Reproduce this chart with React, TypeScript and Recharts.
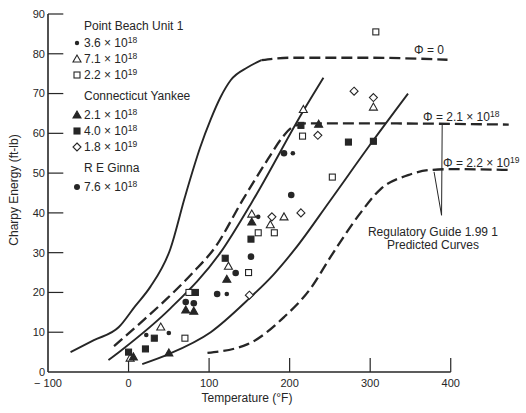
import React from 'react';
import { ComposedChart, Line, Scatter, XAxis, YAxis, ReferenceLine } from 'recharts';

const ink = '#262626';
const font = '"Liberation Sans", Arial, Helvetica, sans-serif';

// Regulatory Guide 1.99 predicted curves (temperature F, energy ft-lb)
const phi0SolidTemp = [-72, -43, -12, 8, 27, 52, 70, 89, 102, 114, 127, 148, 165];
const phi0SolidEnergy = [5, 8, 11.3, 16.5, 21.4, 31, 44, 56.5, 63.5, 69, 73.4, 76.6, 78.4];
const phi0DashTemp = [165, 200, 300, 396];
const phi0DashEnergy = [78.4, 79, 79, 78.5];
const phi21Temp = [-18, 20, 48, 80, 108, 141, 173, 191, 203, 220, 300, 472];
const phi21Energy = [6.5, 13.3, 18.5, 25, 31.5, 43, 53.5, 59, 61.5, 62.5, 62.5, 62.2];
const phi22Temp = [98, 148, 193, 226, 251, 288, 313, 347, 375, 400, 471];
const phi22Energy = [4.8, 7, 13.8, 21, 29, 40, 46, 49.5, 50.8, 51, 50.8];

// the two solid fitted lines through the data
const fitLowTemp = [-25, -10, 52, 114, 154, 218, 242];
const fitLowEnergy = [3, 5.3, 16, 30, 43, 66, 74];
const fitHighTemp = [17, 50, 102, 150, 180, 207, 250, 303, 347];
const fitHighEnergy = [2, 4.5, 10, 18.5, 24.5, 31, 43, 58, 70];

// measured points
const pb36Temp = [22, 50, 122, 161, 204];
const pb36Energy = [9.3, 9.8, 19.6, 39, 55];
const pb71Temp = [2, 40, 124, 153, 176, 193, 217, 304];
const pb71Energy = [3.5, 11.3, 26.6, 39.7, 37, 39, 66, 66.6];
const pb22Temp = [70, 75, 149, 161, 181, 216, 253, 307];
const pb22Energy = [8.5, 20, 25, 35, 35, 59.3, 49, 85.5];
const cy21Temp = [6, 50, 71, 81, 122, 153, 236];
const cy21Energy = [3.8, 4.8, 15.6, 15.3, 23.3, 37.7, 62.3];
const cy40Temp = [0, 21, 32, 83, 120, 152, 214, 273, 304];
const cy40Energy = [5, 5.8, 8.5, 20, 28.6, 33.4, 62, 57.8, 58];
const cy18Temp = [150, 178, 214, 235, 280, 304];
const cy18Energy = [19.3, 39, 40, 59.5, 70.6, 69];
const ginnaTemp = [71, 81, 110, 133, 152, 193, 202];
const ginnaEnergy = [17.6, 17.3, 19.6, 24.9, 29, 55, 44.5];

const xTicks = [-100, 0, 100, 200, 300, 400];
const yTicks = [0, 10, 20, 30, 40, 50, 60, 70, 80, 90];

const legendGroups = ['Point Beach Unit 1', 'Connecticut Yankee', 'R E Ginna'];
const legendMantissa = ['3.6', '7.1', '2.2', '2.1', '4.0', '1.8', '7.6'];
const legendExponent = ['18', '18', '19', '18', '18', '19', '18'];

const zip = (t: number[], e: number[]) => t.map((x, i) => ({ t: x, e: e[i] }));

const circle = (r: number) => (p: any) => (
  <circle cx={p.cx} cy={p.cy} r={r} fill={ink} />
);
const triangle = (filled: boolean) => (p: any) => (
  <polygon
    points={`${p.cx},${p.cy - 4} ${p.cx - 4},${p.cy + 3} ${p.cx + 4},${p.cy + 3}`}
    fill={filled ? ink : '#fff'}
    stroke={ink}
    strokeWidth={1.1}
  />
);
const square = (filled: boolean) => (p: any) => (
  <rect x={p.cx - 3} y={p.cy - 3} width={6} height={6} fill={filled ? ink : '#fff'} stroke={ink} strokeWidth={1.1} />
);
const diamond = (p: any) => (
  <polygon
    points={`${p.cx},${p.cy - 4} ${p.cx + 4},${p.cy} ${p.cx},${p.cy + 4} ${p.cx - 4},${p.cy}`}
    fill="#fff"
    stroke={ink}
    strokeWidth={1.1}
  />
);

const legendSymbol = (i: number, x: number, y: number) => {
  const p = { cx: x, cy: y };
  switch (i) {
    case 0: return circle(2.2)(p);
    case 1: return triangle(false)(p);
    case 2: return square(false)(p);
    case 3: return triangle(true)(p);
    case 4: return square(true)(p);
    case 5: return diamond(p);
    default: return circle(3)(p);
  }
};

const sci = (m: string, e: string) => (
  <>
    {m} × 10<tspan dy={-4} fontSize={8.5}>{e}</tspan>
  </>
);

const Overlay = () => {
  const rowY = [43, 59, 75, 115, 131, 147, 187];
  const groupY = [26, 96, 168];
  return (
    <svg width={526} height={413} style={{ position: 'absolute', left: 0, top: 0, pointerEvents: 'none' }}
      fontFamily={font} fontSize={12} fill={ink}>
      {legendGroups.map((g, i) => (
        <text key={g} x={84} y={groupY[i] + 4}>{g}</text>
      ))}
      {legendMantissa.map((m, i) => (
        <g key={i}>
          {legendSymbol(i, 77, rowY[i])}
          <text x={84} y={rowY[i] + 4}>{sci(m, legendExponent[i])}</text>
        </g>
      ))}
      <text x={414} y={54}>Φ = 0</text>
      <text x={423} y={121}>Φ = {sci('2.1', '18')}</text>
      <text x={443} y={167}>Φ = {sci('2.2', '19')}</text>
      <text x={433} y={236} textAnchor="middle">Regulatory Guide 1.99 1</text>
      <text x={433} y={249} textAnchor="middle">Predicted Curves</text>
      <text x={247} y={402} textAnchor="middle">Temperature (°F)</text>
      <text x={18} y={190} textAnchor="middle" transform="rotate(-90 18 190)">Charpy Energy (ft-lb)</text>
    </svg>
  );
};

export default function App() {
  const solid = { type: 'monotone' as const, dataKey: 'e', stroke: ink, strokeWidth: 1.9, dot: false, activeDot: false, isAnimationActive: false };
  const dashed = { ...solid, strokeWidth: 2.3, strokeDasharray: '11 5' };
  return (
    <div style={{ position: 'absolute', left: 0, top: 0, width: 526, height: 413, background: '#fff' }}>
      <ComposedChart width={526} height={413} margin={{ top: 14, right: 6, bottom: 11, left: 8 }}>
        <XAxis
          type="number"
          dataKey="t"
          domain={[-100, 486]}
          ticks={xTicks}
          allowDataOverflow
          axisLine={false}
          tickLine={false}
          tickSize={0}
          tickMargin={7}
          height={30}
          tickFormatter={(v: number) => (v < 0 ? `− ${Math.abs(v)}` : String(v))}
          tick={{ fill: ink, fontSize: 11, fontFamily: font }}
        />
        <YAxis
          type="number"
          domain={[0, 90]}
          ticks={yTicks}
          width={40}
          axisLine={{ stroke: ink, strokeWidth: 1.6 }}
          tickLine={false}
          tickSize={0}
          tickMargin={3}
          tick={{ fill: ink, fontSize: 11, fontFamily: font }}
        />
        <ReferenceLine segment={[{ x: -100, y: 0 }, { x: 400, y: 0 }]} stroke={ink} strokeWidth={1.6} />
        {xTicks.slice(1).map((t) => (
          <ReferenceLine key={`xt${t}`} segment={[{ x: t, y: 0 }, { x: t, y: 3.5 }]} stroke={ink} strokeWidth={1.2} />
        ))}
        {yTicks.slice(1).map((t) => (
          <ReferenceLine key={`yt${t}`} segment={[{ x: -100, y: t }, { x: -81, y: t }]} stroke={ink} strokeWidth={1.2} />
        ))}
        <ReferenceLine segment={[{ x: 389.4, y: 62.3 }, { x: 388.6, y: 39.4 }]} stroke={ink} strokeWidth={1} />
        <ReferenceLine segment={[{ x: 379.3, y: 50.3 }, { x: 388.6, y: 39.4 }]} stroke={ink} strokeWidth={1} />

        <Line {...solid} data={zip(phi0SolidTemp, phi0SolidEnergy)} />
        <Line {...dashed} data={zip(phi0DashTemp, phi0DashEnergy)} />
        <Line {...dashed} data={zip(phi21Temp, phi21Energy)} />
        <Line {...dashed} data={zip(phi22Temp, phi22Energy)} />
        <Line {...solid} data={zip(fitLowTemp, fitLowEnergy)} />
        <Line {...solid} data={zip(fitHighTemp, fitHighEnergy)} />

        <Scatter data={zip(pb36Temp, pb36Energy)} dataKey="e" shape={circle(2.3)} isAnimationActive={false} />
        <Scatter data={zip(pb71Temp, pb71Energy)} dataKey="e" shape={triangle(false)} isAnimationActive={false} />
        <Scatter data={zip(pb22Temp, pb22Energy)} dataKey="e" shape={square(false)} isAnimationActive={false} />
        <Scatter data={zip(cy21Temp, cy21Energy)} dataKey="e" shape={triangle(true)} isAnimationActive={false} />
        <Scatter data={zip(cy40Temp, cy40Energy)} dataKey="e" shape={square(true)} isAnimationActive={false} />
        <Scatter data={zip(cy18Temp, cy18Energy)} dataKey="e" shape={diamond} isAnimationActive={false} />
        <Scatter data={zip(ginnaTemp, ginnaEnergy)} dataKey="e" shape={circle(3.3)} isAnimationActive={false} />
      </ComposedChart>
      <Overlay />
    </div>
  );
}
